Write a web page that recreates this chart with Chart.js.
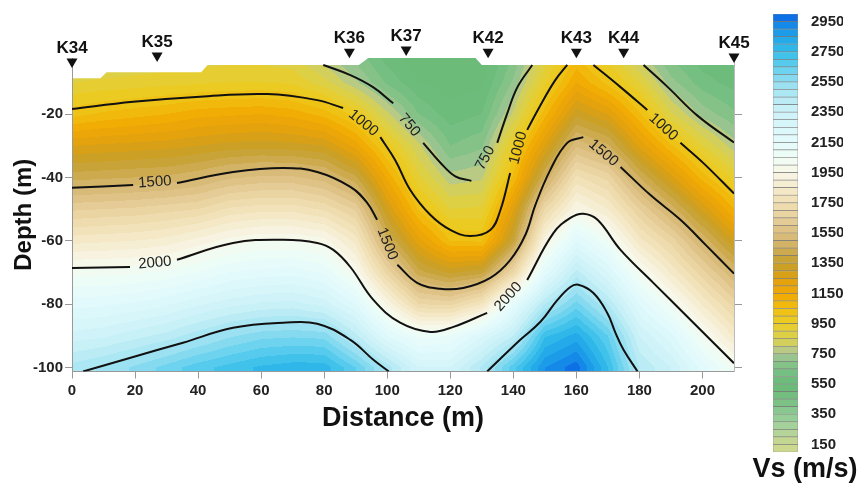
<!DOCTYPE html>
<html>
<head>
<meta charset="utf-8">
<script src="https://cdn.jsdelivr.net/npm/chart.js@4.4.1/dist/chart.umd.min.js"></script>
<style>
  html, body { margin: 0; padding: 0; background: #fff; }
  #wrap { position: relative; width: 859px; height: 488px; overflow: hidden; }
  #main { position: absolute; left: 0; top: 0; }
  #bar  { position: absolute; left: 745px; top: 0; }
</style>
</head>
<body>
<div id="wrap">
  <canvas id="main" width="760" height="488"></canvas>
  <canvas id="bar" width="114" height="488"></canvas>
</div>
<script>
(function () {
  'use strict';

  // --- axes
  var xTicks = [0, 20, 40, 60, 80, 100, 120, 140, 160, 180, 200];
  var yTicks = [-100, -80, -60, -40, -20];
  var cbTicks = [150, 350, 550, 750, 950, 1150, 1350, 1550, 1750, 1950, 2150, 2350, 2550, 2750, 2950];

  // --- stations along the profile
  var stationNames = ['K34', 'K35', 'K36', 'K37', 'K42', 'K43', 'K44', 'K45'];
  var stationX     = [0, 27, 88, 106, 132, 160, 175, 210];
  var stationZ     = [-3.9, -2.0, -0.8, -0.1, -0.8, -0.8, -0.8, -2.3];

  // --- ground surface (top of the section)
  var surfX = [0, 9, 11, 41, 43, 91, 94, 128, 130, 210];
  var surfZ = [-8.7, -8.7, -6.8, -6.8, -4.5, -4.5, -2.3, -2.3, -4.5, -4.5];

  var gridX     = [0, 10, 20, 30, 40, 50, 60, 70, 80, 90, 100, 110, 120, 130, 140, 150, 160, 170, 180, 190, 200, 210];
  var gridDepth = [0, -10, -20, -30, -40, -50, -60, -70, -80, -90, -100];
  var vsRows = [
    [800, 820, 830, 840, 850, 860, 860, 840, 740, 660, 560, 510, 500, 500, 640, 850, 1030, 900, 740, 620, 560, 540],
    [900, 910, 920, 930, 940, 950, 950, 940, 870, 760, 640, 550, 520, 540, 710, 940, 1150, 1030, 900, 720, 620, 580],
    [1030, 1060, 1080, 1100, 1130, 1140, 1150, 1130, 1080, 980, 810, 650, 570, 600, 810, 1080, 1330, 1250, 1060, 860, 730, 660],
    [1250, 1260, 1270, 1280, 1300, 1320, 1330, 1320, 1300, 1180, 980, 810, 650, 690, 960, 1250, 1540, 1460, 1240, 1060, 900, 770],
    [1430, 1440, 1450, 1460, 1490, 1540, 1560, 1560, 1520, 1410, 1140, 910, 770, 790, 1060, 1450, 1760, 1680, 1450, 1270, 1080, 930],
    [1640, 1650, 1660, 1680, 1700, 1760, 1780, 1780, 1740, 1640, 1300, 1040, 900, 910, 1240, 1700, 1950, 1850, 1650, 1480, 1290, 1100],
    [1830, 1840, 1850, 1870, 1920, 1970, 2000, 2000, 1970, 1830, 1460, 1220, 1050, 1040, 1380, 1930, 2200, 2050, 1820, 1680, 1490, 1300],
    [2030, 2030, 2040, 2060, 2100, 2150, 2170, 2180, 2140, 1990, 1680, 1420, 1340, 1380, 1700, 2170, 2420, 2250, 2020, 1840, 1670, 1500],
    [2180, 2190, 2210, 2240, 2290, 2330, 2360, 2370, 2330, 2200, 1940, 1700, 1680, 1800, 2150, 2450, 2620, 2450, 2200, 2030, 1840, 1680],
    [2320, 2340, 2380, 2420, 2480, 2540, 2580, 2590, 2580, 2420, 2200, 2080, 2100, 2240, 2400, 2740, 2820, 2650, 2350, 2220, 2020, 1840],
    [2470, 2510, 2560, 2620, 2680, 2720, 2760, 2780, 2780, 2650, 2480, 2300, 2300, 2460, 2680, 2900, 2980, 2750, 2450, 2350, 2180, 2030]
  ];

  // --- contour lines [distance, depth]; null = gap for a label
  var c750 = [[79.7, -4.5], [88.3, -7.7], [95.5, -11.5], [101.9, -16.6], null,
    [111.4, -29.1], [116.8, -35.3], [121.6, -39.7], [126.7, -41.1], null,
    [134.9, -29.1], [138.1, -19.7], [141.3, -11.5], [146.0, -4.5]];
  var c750b = [[181.3, -4.5], [189.0, -11.5], [198.4, -20.5], [210, -29.0]];
  var c1000a = [[0, -18.4], [19.4, -16.1], [40.6, -14.5], [61.9, -13.7], [77.8, -15.6], [86.0, -18.1], null,
    [97.8, -27.3], [102.5, -34.5], [107.3, -44.0], [113.7, -51.9], [120.0, -56.6], [126.3, -58.5],
    [132.7, -56.6], [135.9, -50.3], [139.0, -38.6], null,
    [144.4, -25.0], [148.6, -17.2], [153.3, -9.3], [157.1, -4.5]];
  var c1000b = [[165.4, -4.5], [174.0, -11.5], [182.5, -18.7], null,
    [193.0, -29.1], [200.3, -35.5], [210, -45.1]];
  var c1500 = [[0, -43.3], [19.4, -42.4], null,
    [33.3, -41.8], [51.1, -38.3], [67.0, -37.0], [77.8, -38.3], [88.3, -43.0], [93.7, -48.1], [96.8, -53.4], null,
    [103.2, -67.6], [109.5, -73.3], [116.8, -75.2], [124.1, -74.9], [132.7, -71.7], [139.0, -66.1],
    [143.8, -58.2], [147.0, -48.7], [151.7, -37.7], [157.1, -29.1], [162.2, -27.3], null,
    [174.0, -36.7], [183.5, -45.6], [193.0, -53.4], [201.0, -61.3], [210, -70.4]];
  var c2000 = [[0, -68.6], [18.4, -68.3], null,
    [33.3, -66.0], [51.1, -60.7], [67.0, -59.7], [77.8, -60.7], [82.9, -62.9], [88.3, -68.3], [95.6, -78.7],
    [104.1, -85.9], [113.7, -88.8], [121.0, -87.2], [131.7, -82.8], null,
    [144.4, -72.4], [152.7, -57.6], [158.1, -52.8], [162.2, -51.5], [166.7, -53.4], [174.0, -62.9],
    [184.4, -73.3], [195.2, -84.0], [210, -98.7]];
  var c2500a = [[3.5, -101.3], [19.4, -96.7], [35.2, -92.2], [51.1, -87.5], [67.0, -85.9], [77.8, -86.2],
    [88.3, -91.3], [95.6, -97.6], [100.5, -101.3]];
  var c2500b = [[131.7, -101.3], [142.2, -91.3], [148.6, -85.6], [154.0, -78.7], [158.1, -74.6], [160.6, -73.9],
    [165.4, -76.5], [169.8, -82.8], [172.4, -89.1], [175.0, -94.5], [179.4, -101.3]];

  // contour labels
  var labelText  = ['1000', '750', '750', '1000', '1500', '2000', '1500', '1500', '1000', '2000'];
  var labelX     = [92.4, 107.0, 131.1, 141.6, 26.3, 26.3, 100.0, 168.6, 187.6, 138.4];
  var labelZ     = [-22.8, -23.5, -33.9, -30.7, -41.5, -67.0, -61.0, -32.3, -24.1, -77.7];
  var labelAngle = [39, 50, -62, -75, -4, -5, 68, 40, 42, -48];

  // --- colour scale
  var cbMin = 100, cbMax = 3000, cbStep = 50;
  var cmapVals = [100, 175, 250, 350, 450, 550, 650, 725, 775, 825, 900, 975, 1050, 1125, 1200, 1275, 1350,
    1425, 1500, 1575, 1650, 1750, 1850, 1950, 2050, 2150, 2250, 2350, 2450, 2550, 2650, 2750, 2850, 2950, 3000];
  var cmapColors = ['#cfd98a', '#c4d792', '#acd39c', '#8ec992', '#76bf80', '#6aba77', '#7ac085', '#98c58f',
    '#b8ca84', '#d2cf5c', '#e4d03a', '#ebcb22', '#efbf10', '#f1ad04', '#eaa308', '#d7a016', '#c6a02c',
    '#cdaa4e', '#d6b872', '#dec286', '#e8d09c', '#f0dfb4', '#f5ebcc', '#f8f6e6', '#eefcf6', '#e4fbfb',
    '#daf7fa', '#cdf2f8', '#b5eaf5', '#92def1', '#62cfee', '#35bdea', '#1ea4e8', '#1080e8', '#0a62e2'];

  var FONT = "'Liberation Sans', Arial, sans-serif";
  Chart.defaults.font.family = FONT;
  Chart.defaults.color = '#1a1a1a';

  function hexRgb(h) {
    return [parseInt(h.substr(1, 2), 16), parseInt(h.substr(3, 2), 16), parseInt(h.substr(5, 2), 16)];
  }
  var stopRgb = cmapColors.map(hexRgb);

  function cmap(v) {
    if (v <= cmapVals[0]) return stopRgb[0];
    for (var i = 1; i < cmapVals.length; i++) {
      if (v <= cmapVals[i]) {
        var t = (v - cmapVals[i - 1]) / (cmapVals[i] - cmapVals[i - 1]);
        var a = stopRgb[i - 1], b = stopRgb[i];
        return [a[0] + (b[0] - a[0]) * t, a[1] + (b[1] - a[1]) * t, a[2] + (b[2] - a[2]) * t];
      }
    }
    return stopRgb[stopRgb.length - 1];
  }

  // one flat colour per 50 m/s band, as on the colour bar
  var nBands = Math.round((cbMax - cbMin) / cbStep);
  var bandRgb = [];
  for (var b = 0; b < nBands; b++) bandRgb.push(cmap(cbMin + (b + 0.5) * cbStep).map(Math.round));

  function bandOf(v) {
    var k = Math.floor((v - cbMin) / cbStep);
    return bandRgb[Math.max(0, Math.min(nBands - 1, k))];
  }

  function sampleVs(x, z) {
    var nx = gridX.length, nz = gridDepth.length;
    var fx = (x - gridX[0]) / (gridX[1] - gridX[0]);
    var fz = (gridDepth[0] - z) / (gridDepth[0] - gridDepth[1]);
    fx = Math.max(0, Math.min(nx - 1, fx));
    fz = Math.max(0, Math.min(nz - 1, fz));
    var i = Math.min(Math.floor(fx), nx - 2), j = Math.min(Math.floor(fz), nz - 2);
    var tx = fx - i, tz = fz - j;
    var top = vsRows[j][i] * (1 - tx) + vsRows[j][i + 1] * tx;
    var bot = vsRows[j + 1][i] * (1 - tx) + vsRows[j + 1][i + 1] * tx;
    return top * (1 - tz) + bot * tz;
  }

  var heatmap = {
    id: 'heatmap',
    beforeDraw: function (chart) {
      var ctx = chart.ctx, a = chart.chartArea, xs = chart.scales.x, ys = chart.scales.y;
      var x0 = Math.round(a.left), y0 = Math.round(a.top);
      var w = Math.round(a.right) - x0, h = Math.round(a.bottom) - y0;
      var img = ctx.createImageData(w, h);
      for (var j = 0; j < h; j++) {
        var z = ys.getValueForPixel(y0 + j + 0.5);
        for (var i = 0; i < w; i++) {
          var c = bandOf(sampleVs(xs.getValueForPixel(x0 + i + 0.5), z));
          var k = (j * w + i) * 4;
          img.data[k] = c[0]; img.data[k + 1] = c[1]; img.data[k + 2] = c[2]; img.data[k + 3] = 255;
        }
      }
      ctx.putImageData(img, x0, y0);

      // blank out everything above the ground surface
      ctx.save();
      ctx.fillStyle = '#fff';
      ctx.beginPath();
      ctx.moveTo(a.left - 1, a.top - 1);
      for (var s = 0; s < surfX.length; s++) {
        ctx.lineTo(xs.getPixelForValue(surfX[s]) + (s === 0 ? -1 : 0), ys.getPixelForValue(surfZ[s]));
      }
      ctx.lineTo(a.right + 1, ys.getPixelForValue(surfZ[surfZ.length - 1]));
      ctx.lineTo(a.right + 1, a.top - 1);
      ctx.closePath();
      ctx.fill();
      ctx.restore();
    }
  };

  var contourText = {
    id: 'contourText',
    afterDatasetsDraw: function (chart) {
      var ctx = chart.ctx, xs = chart.scales.x, ys = chart.scales.y;
      ctx.save();
      ctx.font = '15px ' + FONT;
      ctx.fillStyle = '#222';
      ctx.textAlign = 'center';
      ctx.textBaseline = 'middle';
      for (var i = 0; i < labelText.length; i++) {
        ctx.save();
        ctx.translate(xs.getPixelForValue(labelX[i]), ys.getPixelForValue(labelZ[i]));
        ctx.rotate(labelAngle[i] * Math.PI / 180);
        ctx.fillText(labelText[i], 0, 0);
        ctx.restore();
      }
      ctx.restore();
    }
  };

  var stations = {
    id: 'stations',
    afterDraw: function (chart) {
      var ctx = chart.ctx, xs = chart.scales.x, ys = chart.scales.y;
      ctx.save();
      ctx.fillStyle = '#111';
      ctx.font = 'bold 17px ' + FONT;
      ctx.textAlign = 'center';
      ctx.textBaseline = 'middle';
      for (var i = 0; i < stationNames.length; i++) {
        var px = xs.getPixelForValue(stationX[i]), py = ys.getPixelForValue(stationZ[i]);
        ctx.beginPath();
        ctx.moveTo(px - 5.5, py - 4.5);
        ctx.lineTo(px + 5.5, py - 4.5);
        ctx.lineTo(px, py + 5);
        ctx.closePath();
        ctx.fill();
        ctx.fillText(stationNames[i], px, py - 15);
      }
      ctx.restore();
    }
  };

  function toSegments(line) {
    var segs = [], cur = [];
    line.forEach(function (p) {
      if (p === null) { if (cur.length) segs.push(cur); cur = []; }
      else cur.push({ x: p[0], y: p[1] });
    });
    if (cur.length) segs.push(cur);
    return segs;
  }

  var datasets = [];
  [c750, c750b, c1000a, c1000b, c1500, c2000, c2500a, c2500b].forEach(function (line) {
    toSegments(line).forEach(function (seg) {
      datasets.push({
        data: seg,
        showLine: true,
        borderColor: '#111',
        borderWidth: 2,
        pointRadius: 0,
        tension: 0.4,
        fill: false
      });
    });
  });

  var tickFont = { size: 15, weight: 'bold' };

  new Chart(document.getElementById('main'), {
    type: 'scatter',
    data: { datasets: datasets },
    options: {
      responsive: false,
      animation: false,
      events: [],
      layout: { padding: { top: 58, right: 18, bottom: 0, left: 0 } },
      plugins: { legend: { display: false }, tooltip: { enabled: false } },
      scales: {
        x: {
          type: 'linear', min: 0, max: 210,
          afterFit: function (s) { s.height = 116.5; },
          afterBuildTicks: function (s) { s.ticks = xTicks.map(function (v) { return { value: v }; }); },
          grid: { drawOnChartArea: false, tickLength: 7, color: '#999' },
          border: { color: '#999' },
          ticks: { font: tickFont, color: '#222', padding: 3, maxRotation: 0 },
          title: { display: true, text: 'Distance (m)', color: '#111',
                   font: { size: 27, weight: 'bold' }, padding: { top: 0, bottom: 53 } }
        },
        y: {
          type: 'linear', min: -101.3, max: -2.3,
          afterFit: function (s) { s.width = 72; },
          afterBuildTicks: function (s) { s.ticks = yTicks.map(function (v) { return { value: v }; }); },
          grid: { drawOnChartArea: false, tickLength: 7, color: '#999' },
          border: { color: '#999' },
          ticks: { font: tickFont, color: '#222', padding: 2 },
          title: { display: true, text: 'Depth (m)', color: '#111',
                   font: { size: 24, weight: 'bold' }, padding: { top: 10, bottom: 0 } }
        },
        y2: {
          type: 'linear', position: 'right', min: -101.3, max: -2.3,
          afterBuildTicks: function (s) { s.ticks = yTicks.map(function (v) { return { value: v }; }); },
          grid: { drawOnChartArea: false, tickLength: 8, color: '#999' },
          border: { color: '#bbb' },
          ticks: { display: false }
        }
      }
    },
    plugins: [heatmap, contourText, stations]
  });

  // --- colour bar
  var bandSets = [];
  for (var v = cbMin; v < cbMax; v += cbStep) {
    var c = bandOf(v + 1);
    bandSets.push({
      data: [[v, v + cbStep]],
      backgroundColor: 'rgb(' + c[0] + ',' + c[1] + ',' + c[2] + ')',
      borderColor: 'rgba(70,70,70,0.55)',
      borderWidth: 0.7,
      borderSkipped: false,
      grouped: false,
      barPercentage: 1,
      categoryPercentage: 1
    });
  }

  var vsTitle = {
    id: 'vsTitle',
    afterDraw: function (chart) {
      var ctx = chart.ctx;
      ctx.save();
      ctx.fillStyle = '#111';
      ctx.font = 'bold 27px ' + FONT;
      ctx.textAlign = 'center';
      ctx.textBaseline = 'middle';
      ctx.fillText('Vs (m/s)', 60, 470);
      ctx.restore();
    }
  };

  new Chart(document.getElementById('bar'), {
    type: 'bar',
    data: { labels: ['Vs'], datasets: bandSets },
    options: {
      responsive: false,
      animation: false,
      events: [],
      layout: { padding: { top: 13, right: 16, bottom: 36, left: 28 } },
      plugins: { legend: { display: false }, tooltip: { enabled: false } },
      scales: {
        x: { display: false },
        y: {
          position: 'right', min: cbMin, max: cbMax,
          afterFit: function (s) { s.width = 45; },
          afterBuildTicks: function (s) { s.ticks = cbTicks.map(function (t) { return { value: t }; }); },
          grid: { display: false },
          border: { display: false },
          ticks: { font: tickFont, color: '#222', padding: 5,
                   callback: function (t) { return String(t); } }
        }
      }
    },
    plugins: [vsTitle]
  });
})();
</script>
</body>
</html>
